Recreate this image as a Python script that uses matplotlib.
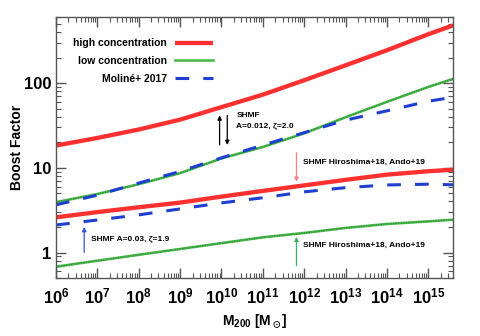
import numpy as np
import matplotlib
matplotlib.use("Agg")
import matplotlib.pyplot as plt
from matplotlib.ticker import LogLocator, NullFormatter, FixedLocator, FixedFormatter

plt.rcParams['font.family'] = ['Liberation Sans', 'DejaVu Sans']
plt.rcParams['font.weight'] = 'bold'
plt.rcParams['mathtext.fontset'] = 'custom'
plt.rcParams['mathtext.rm'] = 'Liberation Sans:bold'
plt.rcParams['mathtext.bf'] = 'Liberation Sans:bold'
plt.rcParams['mathtext.it'] = 'Liberation Sans:bold'
plt.rcParams['mathtext.default'] = 'bf'
plt.rcParams['mathtext.fallback'] = 'stix'

# halo mass grid (log10 M200 / Msun)
log_m = np.array([6, 7, 8, 9, 10, 11, 12, 13, 14, 15, 15.6])
mass = 10.0 ** log_m

# SHMF A=0.012, zeta=2.0
high_a012 = [18.3, 22.5, 28.3, 37, 52, 73, 108, 162, 244, 377, 480]
low_a012 = [3.93, 4.9, 6.4, 8.65, 12.9, 17.6, 25.5, 39.5, 60, 90, 112]
moline_high = [3.65, 4.75, 6.6, 9.05, 13.1, 18.5, 26, 36.5, 47, 61, 68]

# SHMF Hiroshima+18, Ando+19
high_hiro = [2.6, 3.0, 3.42, 3.88, 4.57, 5.33, 6.2, 7.2, 8.3, 9.1, 9.5]
low_hiro = [0.68, 0.80, 0.94, 1.10, 1.29, 1.51, 1.70, 1.95, 2.17, 2.33, 2.44]
moline_low = [2.11, 2.42, 2.78, 3.27, 3.85, 4.43, 5.2, 5.83, 6.27, 6.4, 6.3]

red = '#ff3030'
green = '#4cba4c'
green_dot = '#2a9038'
blue = '#1f3fd0'

fig = plt.figure(figsize=(4.8, 3.36), dpi=100)
ax = fig.add_axes([0.1167, 0.1726, 0.8273, 0.7764])

dash = (0, (4.5, 4.6))
ax.plot(mass, high_a012, color=red, lw=3.1, solid_capstyle='butt', label='high concentration')
ax.plot(mass, low_a012, color=green, lw=1.9, label='low concentration')
ax.plot(mass, low_a012, color=green_dot, lw=0.9, ls=(0, (1, 1)))
ax.plot(mass, moline_high, color=blue, lw=2.2, ls=dash, label='Moliné+ 2017')
ax.plot(mass, high_hiro, color=red, lw=3.1, solid_capstyle='butt')
ax.plot(mass, low_hiro, color=green, lw=1.9)
ax.plot(mass, low_hiro, color=green_dot, lw=0.9, ls=(0, (1, 1)))
ax.plot(mass, moline_low, color=blue, lw=2.2, ls=dash)

ax.set_xscale('log')
ax.set_yscale('log')
ax.set_xlim(1e6, 10 ** 15.6)
ax.set_ylim(0.5, 600)

ax.xaxis.set_major_locator(LogLocator(base=10, numticks=20))
ax.xaxis.set_minor_locator(LogLocator(base=10, subs=np.arange(2, 10), numticks=20))
ax.xaxis.set_minor_formatter(NullFormatter())
ax.yaxis.set_major_locator(FixedLocator([1, 10, 100]))
ax.yaxis.set_major_formatter(FixedFormatter(['1', '10', '100']))
ax.yaxis.set_minor_locator(LogLocator(base=10, subs=np.arange(2, 10), numticks=20))
ax.yaxis.set_minor_formatter(NullFormatter())

ax.tick_params(which='both', direction='in', top=True, right=True, colors='#555555',
               labelcolor='black', labelsize=12)
ax.tick_params(which='major', length=7, width=1)
ax.tick_params(which='minor', length=3.5, width=0.8)
ax.tick_params(axis='x', pad=6)
for s in ax.spines.values():
    s.set_color('#555555')
    s.set_linewidth(1.0)

ax.set_xlabel(r'M$_{200}$ [M$_\odot$]', fontsize=10, fontweight='bold', labelpad=4)
ax.set_ylabel('Boost Factor', fontsize=10, fontweight='bold', labelpad=0)

leg = ax.legend(loc='upper left', frameon=False, markerfirst=False, fontsize=7.5,
                handlelength=3.6, labelspacing=0.75, bbox_to_anchor=(0.02, 0.955))
for t in leg.get_texts():
    t.set_ha('right')
    t.set_fontweight('bold')
leg._legend_box.align = 'right'


def arrow(x0, y0, x1, y1, color):
    ax.annotate('', xy=(x1, y1), xytext=(x0, y0),
                arrowprops=dict(arrowstyle='-|>', color=color, lw=0.9,
                                mutation_scale=6, shrinkA=0, shrinkB=0))


arrow(9.0e9, 18.6, 9.0e9, 41.5, 'black')
arrow(1.38e10, 41.5, 1.38e10, 18.6, 'black')
ax.text(2.3e10, 45, 'SHMF\nA=0.012, ζ=2.0', fontsize=6, fontweight='bold',
        va='top', linespacing=1.6)

arrow(6.5e11, 15.1, 6.5e11, 6.85, '#ff8080')
ax.text(9.5e11, 11.5, 'SHMF Hiroshima+18, Ando+19', fontsize=6, fontweight='bold', va='center')

arrow(6.5e11, 0.70, 6.5e11, 1.53, '#40b060')
ax.text(9.5e11, 1.23, 'SHMF Hiroshima+18, Ando+19', fontsize=6, fontweight='bold', va='center')

arrow(4.8e6, 1.0, 4.8e6, 2.0, '#3050e0')
ax.text(7.0e6, 1.45, 'SHMF A=0.03, ζ=1.9', fontsize=6, fontweight='bold', va='center')

fig.savefig('out.png', dpi=100)
